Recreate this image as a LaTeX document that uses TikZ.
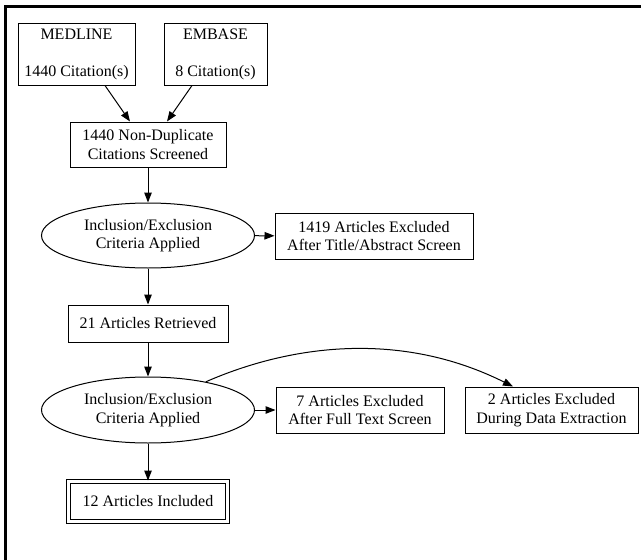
\documentclass[tikz,border=0pt]{standalone}
\usepackage{fontspec}
\setmainfont{Liberation Serif}
\usetikzlibrary{shapes.geometric,arrows.meta}
\begin{document}
\begin{tikzpicture}[x=1pt,y=-1pt,
  every node/.style={font=\fontsize{16}{18.5}\selectfont, align=center, inner sep=0pt},
  box/.style={draw, line width=1pt, rectangle},
  oval/.style={draw, line width=1pt, ellipse},
  arr/.style={line width=1pt, -{Triangle[length=10pt,width=7.5pt]}}]
\useasboundingbox (0,0) rectangle (641,560);
\draw[line width=3pt] (5.5,560) -- (5.5,6.5) -- (641,6.5);

\node[box, minimum width=117pt, minimum height=62pt] (med) at (76.5,54) {MEDLINE\\\mbox{}\\1440 Citation(s)};
\node[box, minimum width=103pt, minimum height=62pt] (emb) at (215.5,54) {EMBASE\\\mbox{}\\8 Citation(s)};
\node[box, minimum width=156pt, minimum height=45pt] (nd) at (148,144.5) {1440 Non-Duplicate\\Citations Screened};
\node[oval, minimum width=213pt, minimum height=65pt] (e1) at (148,235.5) {Inclusion/Exclusion\\Criteria Applied};
\node[box, minimum width=198pt, minimum height=46pt] (x1) at (374,236) {1419 Articles Excluded\\After Title/Abstract Screen};
\node[box, minimum width=160pt, minimum height=37pt] (r21) at (148,323.5) {21 Articles Retrieved};
\node[oval, minimum width=213pt, minimum height=66pt] (e2) at (148,410) {Inclusion/Exclusion\\Criteria Applied};
\node[box, minimum width=168pt, minimum height=46pt] (x7) at (360,410) {7 Articles Excluded\\After Full Text Screen};
\node[box, minimum width=173pt, minimum height=46pt] (x2) at (551.5,410) {2 Articles Excluded\\During Data Extraction};
\node[draw, double, line width=1pt, double distance=3pt, minimum width=159.5pt, minimum height=40pt] (inc) at (148,501) {12 Articles Included};

\draw[arr] ([xshift=28.5pt]med.south) -- ([xshift=-18pt]nd.north);
\draw[arr] ([xshift=-23.5pt]emb.south) -- ([xshift=19pt]nd.north);
\draw[arr] (nd) -- (e1);
\draw[arr] (e1) -- (x1);
\draw[arr] (e1) -- (r21);
\draw[arr] (r21) -- (e2);
\draw[arr] (e2) -- (x7);
\draw[arr] (e2) -- (inc);
\draw[arr] (e2.26) .. controls (290,345) and (400,330) .. ([xshift=-38.5pt]x2.north);
\end{tikzpicture}
\end{document}
